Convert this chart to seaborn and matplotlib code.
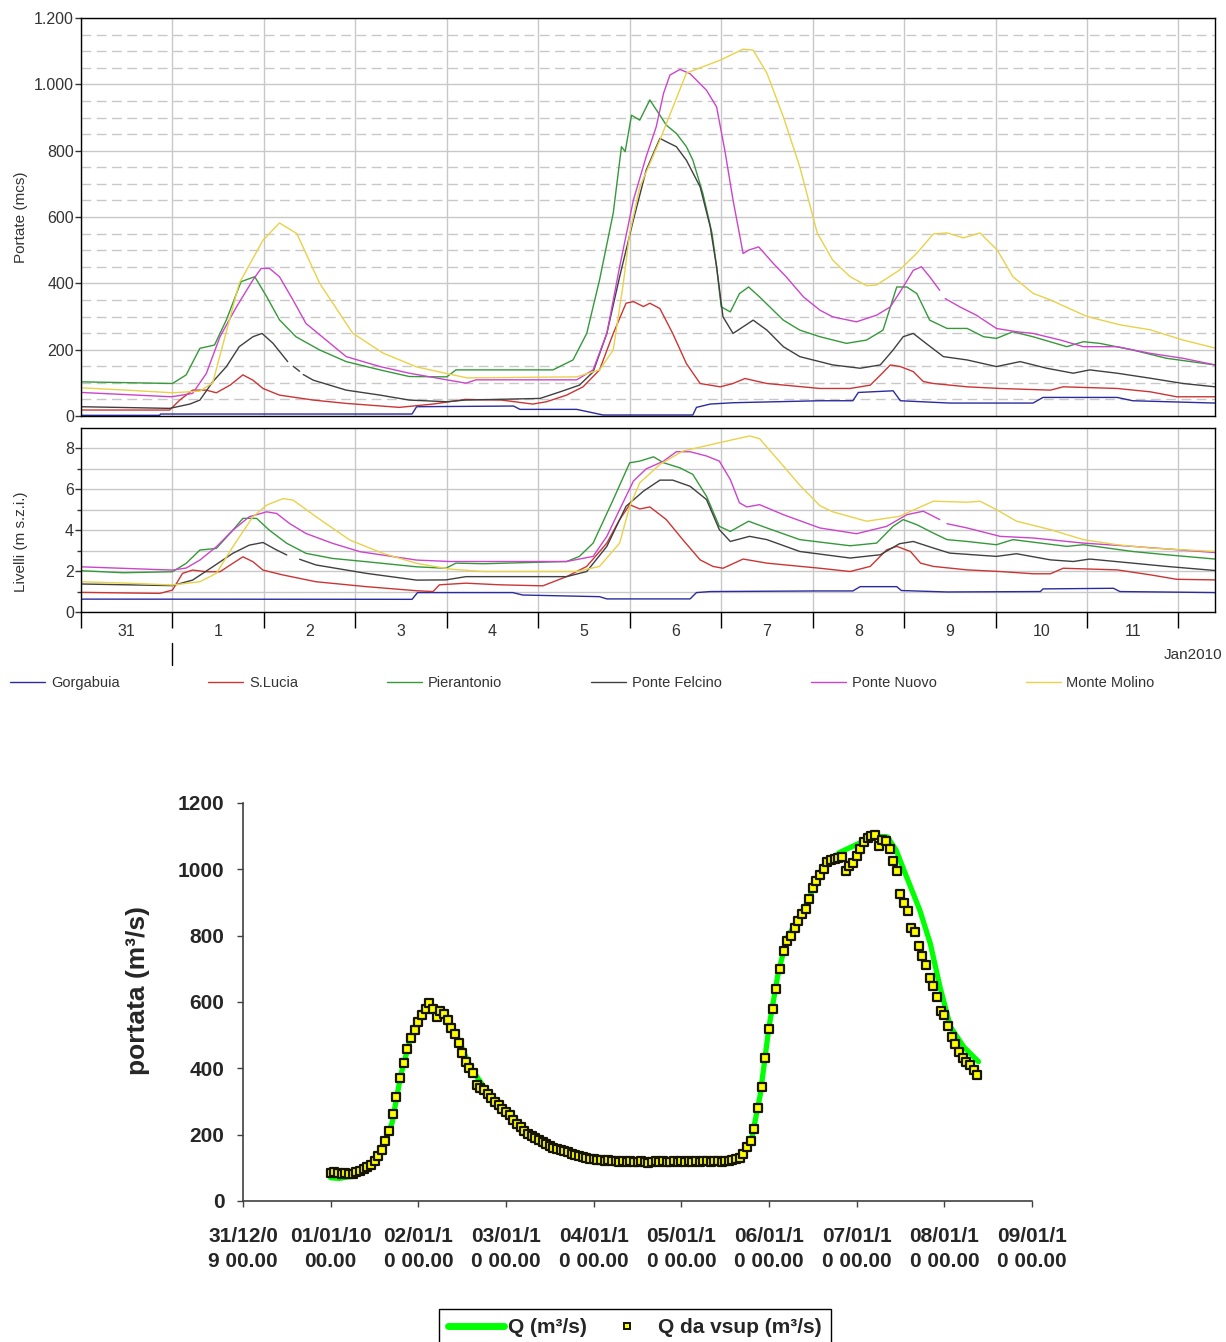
import numpy as np
import matplotlib
matplotlib.use("Agg")
import matplotlib.pyplot as plt
import seaborn as sns
from matplotlib.lines import Line2D
from matplotlib.ticker import MultipleLocator, FixedLocator

# ---------------- DATA (time in days from 31 Dec 2009 00:00) ----------------
station_names = ["Gorgabuia", "S.Lucia", "Pierantonio", "Ponte Felcino", "Ponte Nuovo", "Monte Molino"]
station_colors = ["#2b2b9e", "#cc3535", "#35993a", "#404040", "#cc44cc", "#e8d24a"]

day_labels = ["31", "1", "2", "3", "4", "5", "6", "7", "8", "9", "10", "11"]
q_tick_values = [0, 200, 400, 600, 800, 1000, 1200]
q_tick_labels = ["0", "200", "400", "600", "800", "1.000", "1.200"]
lev_tick_values = [0, 2, 4, 6, 8]

# Portate (mcs)
gorg_q_t = [0, 0.86, 0.87, 3.62, 3.67, 4.73, 4.8, 5.42, 5.71, 6.69, 6.73, 6.88, 7.13, 8.08, 8.44, 8.5, 8.88, 8.96, 9.5, 10.41, 10.52, 11.33, 11.5, 12.4]
gorg_q_v = [2, 2, 6, 6, 28, 30, 20, 20, 3, 3, 26, 36, 40, 46, 46, 71, 76, 46, 39, 39, 56, 56, 46, 39]

slucia_q_t = [0, 0.97, 1.08, 1.22, 1.37, 1.48, 1.63, 1.77, 1.88, 1.99, 2.17, 2.54, 2.9, 3.48, 3.85, 4.2, 4.6, 4.94, 5.09, 5.31, 5.49, 5.67, 5.82, 5.96, 6.04, 6.15, 6.22, 6.33, 6.47, 6.62, 6.77, 6.99, 7.13, 7.26, 7.5, 8.08, 8.41, 8.63, 8.74, 8.85, 8.96, 9.1, 9.21, 9.32, 9.69, 10.05, 10.6, 10.74, 11.33, 11.69, 11.98, 12.4]
slucia_q_v = [18, 18, 48, 78, 78, 70, 93, 124, 108, 83, 63, 48, 38, 26, 36, 50, 48, 36, 43, 63, 88, 139, 249, 340, 345, 330, 340, 324, 249, 158, 98, 88, 98, 113, 98, 83, 83, 93, 123, 154, 149, 134, 104, 98, 88, 83, 78, 88, 83, 73, 58, 58]

pier_q_t = [0, 1.0, 1.15, 1.3, 1.46, 1.59, 1.75, 1.9, 2.03, 2.17, 2.35, 2.61, 2.9, 3.27, 3.59, 4.0, 4.1, 5.16, 5.38, 5.53, 5.67, 5.82, 5.91, 5.95, 6.02, 6.11, 6.22, 6.27, 6.33, 6.4, 6.51, 6.62, 6.69, 6.8, 6.9, 6.95, 7.0, 7.1, 7.2, 7.3, 7.42, 7.68, 7.86, 8.08, 8.37, 8.59, 8.77, 8.92, 9.03, 9.14, 9.28, 9.47, 9.69, 9.87, 10.01, 10.19, 10.41, 10.78, 10.96, 11.14, 11.5, 11.87, 12.4]
pier_q_v = [103, 98, 124, 204, 214, 290, 405, 420, 360, 290, 239, 199, 164, 139, 119, 118, 139, 139, 169, 249, 410, 612, 812, 797, 907, 892, 953, 932, 907, 877, 852, 812, 772, 671, 551, 450, 329, 314, 369, 389, 359, 289, 259, 239, 219, 229, 259, 389, 389, 369, 289, 264, 264, 239, 234, 254, 239, 209, 224, 219, 199, 174, 154]

felc_q_t = [0, 0.97, 1.19, 1.3, 1.44, 1.59, 1.73, 1.88, 1.98, 2.1, 2.26, 2.29, 2.32, 2.39, 2.41, 2.43, 2.54, 2.9, 3.27, 3.59, 4.0, 4.2, 5.02, 5.24, 5.45, 5.6, 5.75, 5.89, 6.04, 6.18, 6.33, 6.4, 6.51, 6.62, 6.77, 6.88, 6.95, 7.02, 7.13, 7.24, 7.35, 7.5, 7.68, 7.86, 8.22, 8.52, 8.74, 8.88, 8.99, 9.1, 9.24, 9.43, 9.69, 10.01, 10.27, 10.56, 10.85, 11.03, 11.33, 11.69, 12.05, 12.4]
felc_q_v = [28, 23, 36, 48, 103, 149, 209, 239, 249, 219, 164, np.nan, 150, 135, np.nan, 125, 108, 78, 63, 48, 43, 48, 53, 73, 93, 133, 249, 420, 591, 741, 837, 827, 812, 771, 691, 571, 450, 299, 249, 269, 289, 259, 209, 179, 154, 144, 154, 199, 239, 249, 219, 179, 169, 149, 164, 144, 129, 139, 129, 114, 98, 88]

pnuo_q_t = [0, 0.99, 1.22, 1.37, 1.52, 1.70, 1.88, 1.97, 2.06, 2.17, 2.32, 2.46, 2.68, 2.9, 3.27, 3.59, 4.0, 4.21, 4.32, 5.42, 5.6, 5.75, 5.89, 6.04, 6.18, 6.29, 6.37, 6.44, 6.55, 6.66, 6.84, 6.95, 7.04, 7.13, 7.24, 7.3, 7.41, 7.57, 7.71, 7.9, 8.08, 8.22, 8.48, 8.7, 8.85, 8.99, 9.1, 9.19, 9.28, 9.39, 9.42, 9.45, 9.61, 9.79, 10.01, 10.23, 10.41, 10.71, 10.96, 11.33, 11.69, 12.05, 12.4]
pnuo_q_v = [71, 58, 68, 128, 239, 329, 410, 445, 445, 420, 349, 279, 229, 179, 149, 129, 109, 99, 109, 109, 139, 249, 450, 651, 782, 872, 973, 1028, 1045, 1032, 982, 932, 801, 651, 490, 500, 510, 460, 420, 359, 319, 299, 284, 304, 329, 389, 439, 450, 420, 379, np.nan, 354, 329, 304, 264, 254, 249, 229, 209, 209, 189, 174, 154]

moli_q_t = [0, 0.5, 1.0, 1.3, 1.44, 1.73, 1.99, 2.17, 2.36, 2.61, 2.97, 3.3, 3.67, 4.0, 4.22, 5.42, 5.67, 5.82, 5.93, 6.0, 6.11, 6.33, 6.62, 6.99, 7.24, 7.35, 7.5, 7.68, 7.86, 8.05, 8.22, 8.41, 8.59, 8.7, 8.95, 9.14, 9.32, 9.47, 9.65, 9.83, 10.02, 10.19, 10.41, 10.6, 11.0, 11.36, 11.69, 12.05, 12.4]
moli_q_v = [85, 78, 70, 75, 100, 400, 530, 582, 550, 400, 250, 190, 148, 128, 115, 118, 139, 199, 400, 552, 690, 832, 1034, 1073, 1106, 1103, 1034, 902, 751, 552, 470, 420, 393, 395, 440, 491, 549, 552, 537, 552, 500, 420, 370, 350, 300, 275, 260, 229, 205]

# Livelli (m s.z.i.)
gorg_l_t = [0, 3.62, 3.68, 4.72, 4.83, 5.67, 5.75, 6.66, 6.73, 6.88, 8.08, 8.44, 8.52, 8.92, 8.97, 9.47, 10.49, 10.52, 11.29, 11.36, 12.4]
gorg_l_v = [0.63, 0.62, 0.95, 0.95, 0.83, 0.75, 0.64, 0.64, 0.95, 1.0, 1.03, 1.03, 1.24, 1.24, 1.05, 0.98, 1.0, 1.13, 1.16, 1.0, 0.95]

slucia_l_t = [0, 0.86, 1.0, 1.11, 1.22, 1.37, 1.52, 1.66, 1.77, 1.88, 1.99, 2.21, 2.57, 3.12, 3.67, 3.85, 3.92, 4.21, 4.58, 5.05, 5.31, 5.53, 5.75, 5.89, 6.0, 6.11, 6.22, 6.4, 6.58, 6.77, 6.91, 7.02, 7.24, 7.5, 8.08, 8.41, 8.63, 8.81, 8.92, 9.07, 9.18, 9.32, 9.69, 10.05, 10.41, 10.6, 10.74, 11.33, 11.69, 11.98, 12.4]
slucia_l_v = [0.96, 0.91, 1.07, 1.89, 2.05, 1.97, 1.97, 2.38, 2.70, 2.46, 2.05, 1.81, 1.48, 1.24, 1.04, 1.0, 1.33, 1.41, 1.33, 1.28, 1.73, 2.23, 3.37, 4.52, 5.25, 5.04, 5.14, 4.52, 3.54, 2.55, 2.23, 2.14, 2.59, 2.39, 2.14, 1.98, 2.23, 3.04, 3.21, 2.96, 2.39, 2.23, 2.06, 1.98, 1.87, 1.87, 2.14, 2.06, 1.82, 1.60, 1.57]

pier_l_t = [0, 0.46, 1.0, 1.15, 1.3, 1.48, 1.66, 1.77, 1.92, 2.06, 2.25, 2.46, 2.75, 3.12, 3.67, 3.99, 4.1, 4.4, 5.31, 5.45, 5.6, 5.82, 6.0, 6.11, 6.26, 6.37, 6.55, 6.69, 6.84, 6.98, 7.1, 7.3, 7.5, 7.86, 8.41, 8.7, 8.88, 8.99, 9.14, 9.32, 9.47, 9.69, 10.01, 10.19, 10.78, 10.96, 11.5, 11.87, 12.4]
pier_l_v = [2.02, 1.92, 1.97, 2.38, 3.03, 3.11, 4.0, 4.58, 4.58, 4.0, 3.36, 2.87, 2.62, 2.46, 2.21, 2.14, 2.39, 2.36, 2.47, 2.72, 3.37, 5.50, 7.30, 7.38, 7.59, 7.30, 7.05, 6.73, 5.66, 4.19, 3.94, 4.44, 4.11, 3.54, 3.24, 3.37, 4.19, 4.52, 4.27, 3.86, 3.54, 3.45, 3.29, 3.54, 3.21, 3.29, 2.96, 2.80, 2.59]

felc_l_t = [0, 1.0, 1.22, 1.44, 1.66, 1.84, 1.99, 2.14, 2.25, 2.3, 2.39, 2.57, 3.12, 3.67, 3.99, 4.21, 5.31, 5.53, 5.75, 5.96, 6.15, 6.33, 6.47, 6.66, 6.84, 6.98, 7.1, 7.31, 7.5, 7.86, 8.41, 8.74, 8.95, 9.1, 9.32, 9.5, 10.01, 10.23, 10.6, 10.85, 11.03, 11.5, 11.87, 12.4]
felc_l_v = [1.37, 1.29, 1.56, 2.21, 2.87, 3.27, 3.40, 3.03, 2.79, np.nan, 2.58, 2.30, 1.89, 1.56, 1.57, 1.73, 1.73, 1.98, 3.21, 5.17, 5.91, 6.45, 6.45, 6.15, 5.50, 4.03, 3.45, 3.70, 3.54, 2.96, 2.64, 2.80, 3.34, 3.45, 3.13, 2.88, 2.72, 2.85, 2.55, 2.47, 2.59, 2.39, 2.23, 2.03]

pnuo_l_t = [0, 1.0, 1.15, 1.30, 1.48, 1.66, 1.84, 2.03, 2.14, 2.28, 2.46, 2.75, 3.05, 3.67, 4.03, 5.31, 5.6, 5.75, 5.89, 6.04, 6.18, 6.37, 6.51, 6.66, 6.84, 6.98, 7.1, 7.2, 7.28, 7.42, 7.68, 8.08, 8.48, 8.81, 9.03, 9.21, 9.39, 9.43, 9.47, 9.69, 10.05, 10.41, 10.96, 11.5, 12.4]
pnuo_l_v = [2.21, 2.05, 2.15, 2.54, 3.19, 4.0, 4.66, 4.90, 4.82, 4.33, 3.84, 3.36, 2.95, 2.54, 2.47, 2.47, 2.72, 3.70, 5.01, 6.4, 7.0, 7.38, 7.84, 7.84, 7.63, 7.38, 6.48, 5.34, 5.14, 5.25, 4.76, 4.11, 3.83, 4.19, 4.76, 4.93, 4.52, np.nan, 4.32, 4.11, 3.70, 3.62, 3.37, 3.21, 2.91]

moli_l_t = [0, 0.57, 1.0, 1.30, 1.48, 1.66, 1.88, 2.03, 2.21, 2.32, 2.57, 2.94, 3.30, 3.67, 4.03, 4.40, 5.42, 5.67, 5.89, 6.0, 6.11, 6.33, 6.58, 6.98, 7.31, 7.42, 7.68, 7.86, 8.08, 8.22, 8.59, 8.95, 9.32, 9.69, 9.83, 10.01, 10.23, 10.6, 10.96, 11.33, 11.69, 12.4]
moli_l_v = [1.48, 1.40, 1.32, 1.48, 1.89, 3.19, 4.66, 5.23, 5.55, 5.47, 4.66, 3.52, 2.87, 2.38, 2.10, 1.98, 1.98, 2.23, 3.37, 5.17, 6.32, 7.22, 7.87, 8.28, 8.61, 8.48, 7.14, 6.2, 5.2, 4.9, 4.44, 4.68, 5.42, 5.37, 5.42, 5.01, 4.44, 4.03, 3.54, 3.29, 3.13, 2.96]

# Bottom chart: Q (m3/s) line and Q da vsup (hourly from 01/01/10 00:00)
q_t = [1.0, 1.1, 1.25, 1.35, 1.5, 1.6, 1.7, 1.8, 1.9, 2.0, 2.1, 2.2, 2.3, 2.45, 2.6, 2.8, 3.0, 3.2, 3.4, 3.7, 4.0, 4.5, 5.0, 5.5, 5.7, 5.8, 5.9, 6.0, 6.1, 6.2, 6.4, 6.6, 6.8, 7.0, 7.2, 7.35, 7.45, 7.57, 7.72, 7.84, 7.95, 8.07, 8.22, 8.39]
q_v = [70, 68, 75, 92, 122, 166, 235, 380, 480, 545, 590, 578, 560, 490, 400, 325, 270, 215, 180, 145, 125, 120, 120, 121, 135, 185, 320, 525, 680, 790, 880, 1000, 1050, 1075, 1100, 1098, 1058, 977, 877, 776, 646, 525, 465, 420]

vsup_start_day = 1.0
vsup_v = [84, 86, 83, 82, 84, 81, 82, 86, 90, 96, 102, 110, 122, 135, 155, 180, 210, 262, 315, 370, 415, 458, 490, 515,
          540, 560, 580, 597, 578, 556, 572, 565, 545, 522, 505, 475, 445, 420, 400, 385, 350, 340, 335, 322, 310, 300, 288, 278,
          268, 258, 245, 232, 222, 212, 202, 196, 190, 184, 178, 172, 166, 160, 156, 153, 150, 147, 143, 140, 137, 134, 131, 128,
          126, 125, 123, 122, 124, 120, 121, 119, 120, 118, 121, 117, 119, 120, 118, 116, 119, 120, 118, 121, 119, 118, 120, 119,
          120, 118, 121, 119, 120, 118, 120, 122, 119, 121, 120, 119, 121, 122, 124, 127, 130, 143, 162, 182, 218, 280, 345, 430,
          520, 578, 640, 700, 755, 785, 798, 822, 845, 865, 880, 912, 945, 965, 982, 1000, 1022, 1028, 1032, 1035, 1036, 995, 1010, 1020,
          1040, 1060, 1083, 1095, 1100, 1103, 1070, 1088, 1085, 1060, 1025, 995, 925, 900, 875, 822, 810, 770, 738, 712, 672, 648, 615, 572,
          560, 528, 495, 472, 450, 432, 418, 410, 395, 380]

bottom_xlabels = ["31/12/0\n9 00.00", "01/01/10\n00.00", "02/01/1\n0 00.00", "03/01/1\n0 00.00",
                  "04/01/1\n0 00.00", "05/01/1\n0 00.00", "06/01/1\n0 00.00", "07/01/1\n0 00.00",
                  "08/01/1\n0 00.00", "09/01/1\n0 00.00"]
bottom_yticks = [0, 200, 400, 600, 800, 1000, 1200]

# ---------------- STYLE ----------------
sns.set_theme(style="white")
plt.rcParams['font.family'] = ['Liberation Sans', 'DejaVu Sans']
TXT = "#333333"
GRID = "#c8c8c8"

W, H = 1226, 1342
fig = plt.figure(figsize=(W / 100, H / 100), dpi=100)
fig.patch.set_facecolor("white")

ax_q = fig.add_axes([81 / W, 1 - 416 / H, (1215 - 81) / W, (416 - 18) / H])
ax_l = fig.add_axes([81 / W, 1 - 612 / H, (1215 - 81) / W, (612 - 428) / H])
ax_b = fig.add_axes([243 / W, 1 - 1201 / H, (1032 - 243) / W, (1201 - 803) / H])


def draw(ax, t, v, color, lw=1.0):
    t = np.asarray(t, float)
    v = np.asarray(v, float)
    idx = list(np.where(np.isnan(v))[0])
    bounds = [-1] + idx + [len(v)]
    for a, b in zip(bounds[:-1], bounds[1:]):
        if b - a - 1 >= 2:
            sns.lineplot(x=t[a + 1:b], y=v[a + 1:b], ax=ax, color=color, lw=lw,
                         estimator=None, errorbar=None, legend=False)


q_series = [(gorg_q_t, gorg_q_v), (slucia_q_t, slucia_q_v), (pier_q_t, pier_q_v),
            (felc_q_t, felc_q_v), (pnuo_q_t, pnuo_q_v), (moli_q_t, moli_q_v)]
l_series = [(gorg_l_t, gorg_l_v), (slucia_l_t, slucia_l_v), (pier_l_t, pier_l_v),
            (felc_l_t, felc_l_v), (pnuo_l_t, pnuo_l_v), (moli_l_t, moli_l_v)]

for (t, v), c in zip(q_series, station_colors):
    draw(ax_q, t, v, c, lw=1.0)
for (t, v), c in zip(l_series, station_colors):
    draw(ax_l, t, v, c, lw=1.0)

n_days = len(day_labels)
for ax in (ax_q, ax_l):
    ax.set_xlim(0, 12.4)
    ax.set_axisbelow(True)
    ax.set_facecolor("white")
    for s in ax.spines.values():
        s.set_visible(True)
        s.set_color("black")
        s.set_linewidth(1.0)
    ax.xaxis.set_major_locator(FixedLocator(list(range(0, n_days + 1))))
    ax.grid(axis="x", which="major", color=GRID, lw=1.0, ls="-")
    ax.set_xlabel("")
    ax.set_ylabel("")

# Portate panel
ax_q.set_ylim(0, 1200)
ax_q.set_yticks(q_tick_values)
ax_q.set_yticklabels(q_tick_labels)
ax_q.yaxis.set_minor_locator(MultipleLocator(50))
ax_q.grid(axis="y", which="minor", color=GRID, lw=1.0, ls=(0, (7, 4)))
ax_q.grid(axis="y", which="major", color=GRID, lw=1.0, ls="-")
ax_q.tick_params(axis="x", which="both", length=0, labelbottom=False, bottom=False)
ax_q.tick_params(axis="y", which="major", left=True, length=4, width=1, direction="out",
                 labelsize=11.5, labelcolor=TXT, color=TXT, pad=1)
ax_q.tick_params(axis="y", which="minor", length=0)
ax_q.set_ylabel("Portate (mcs)", fontsize=11, color=TXT)
ax_q.yaxis.set_label_coords(-0.047, 0.5)

# Livelli panel
ax_l.set_ylim(0, 9)
ax_l.set_yticks(lev_tick_values)
ax_l.yaxis.set_minor_locator(FixedLocator([1, 3, 5, 7]))
ax_l.grid(axis="y", which="both", color=GRID, lw=1.0, ls="-")
ax_l.tick_params(axis="y", which="major", left=True, length=4, width=1, direction="out",
                 labelsize=11.5, labelcolor=TXT, color=TXT, pad=1)
ax_l.tick_params(axis="y", which="minor", left=True, length=3, width=1, color=TXT)
ax_l.xaxis.set_minor_locator(FixedLocator([i + 0.5 for i in range(n_days)]))
ax_l.set_xticklabels([], minor=False)
ax_l.set_xticklabels(day_labels, minor=True)
ax_l.tick_params(axis="x", which="major", bottom=True, length=11.5, width=1, color="black",
                 direction="out", labelbottom=False)
ax_l.tick_params(axis="x", which="minor", bottom=True, length=0, labelsize=11.5,
                 labelcolor=TXT, pad=9)
ax_l.set_ylabel("Livelli (m s.z.i.)", fontsize=11, color=TXT)
ax_l.yaxis.set_label_coords(-0.047, 0.38)
# month separator below day 1
ax_l.plot([1, 1], [-0.17, -0.29], transform=ax_l.get_xaxis_transform(),
          color="black", lw=1.0, clip_on=False)

fig.text(1222 / W, 1 - 655 / H, "Jan2010", ha="right", va="center", fontsize=11, color=TXT)

handles = [Line2D([], [], color=c, lw=1.0) for c in station_colors]
leg = fig.legend(handles, station_names, ncol=6, loc="center left",
                 bbox_to_anchor=(10 / W, 1 - 683 / H), frameon=False, fontsize=10.5,
                 handlelength=2.4, handletextpad=0.4, columnspacing=6.1,
                 borderpad=0, borderaxespad=0)
for t in leg.get_texts():
    t.set_color(TXT)

# ---------------- BOTTOM CHART ----------------
vsup_t = vsup_start_day + np.arange(len(vsup_v)) / 24.0
sns.lineplot(x=q_t, y=q_v, ax=ax_b, color="#00ff00", lw=3.8, estimator=None,
             errorbar=None, legend=False)
sns.scatterplot(x=vsup_t, y=vsup_v, ax=ax_b, marker="s", s=26, color="#ffff00",
                edgecolor="#141400", linewidth=1.6, legend=False, zorder=3)

ax_b.set_xlim(0, len(bottom_xlabels) - 1)
ax_b.set_ylim(0, 1200)
ax_b.set_facecolor("white")
ax_b.spines["top"].set_visible(False)
ax_b.spines["right"].set_visible(False)
for k in ("left", "bottom"):
    ax_b.spines[k].set_visible(True)
    ax_b.spines[k].set_color("#404040")
    ax_b.spines[k].set_linewidth(1.2)
ax_b.set_xticks(range(len(bottom_xlabels)))
ax_b.set_xticklabels(bottom_xlabels, fontsize=15, fontweight="bold", linespacing=1.4)
ax_b.set_yticks(bottom_yticks)
ax_b.set_yticklabels([str(v) for v in bottom_yticks], fontsize=15, fontweight="bold")
ax_b.tick_params(axis="x", bottom=True, length=4.5, width=1, color="#404040", pad=14)
ax_b.tick_params(axis="y", left=True, length=4.5, width=1, color="#404040", pad=9)
ax_b.grid(False)
ax_b.set_xlabel("")
ax_b.set_ylabel("portata (m³/s)", fontsize=19, fontweight="bold")
ax_b.yaxis.set_label_coords(-0.118, 0.53)

bh = [Line2D([], [], color="#00ff00", lw=5),
      Line2D([], [], ls="none", marker="s", ms=4, mfc="#ffff00", mec="#141400", mew=1.4)]
bleg = ax_b.legend(bh, ["Q (m³/s)", "Q da vsup (m³/s)"], ncol=2, loc="upper center",
                   bbox_to_anchor=(635 / W, 1 - 1309 / H), bbox_transform=fig.transFigure,
                   frameon=True, fancybox=False, framealpha=1, edgecolor="black",
                   prop={"weight": "bold", "size": 15}, handlelength=2.7,
                   handletextpad=0.15, columnspacing=0.6, borderpad=0.45, borderaxespad=0)
bleg.get_frame().set_linewidth(1.0)

fig.savefig("out.png", dpi=100, facecolor="white")
